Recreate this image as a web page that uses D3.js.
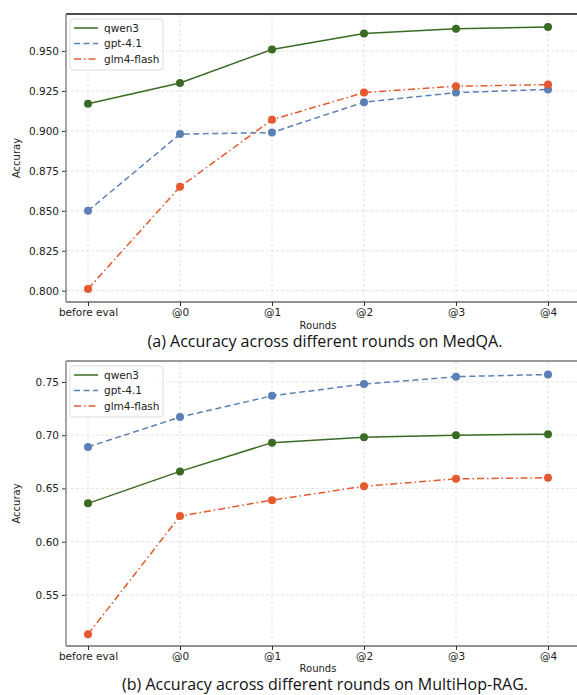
<!DOCTYPE html>
<html>
<head>
<meta charset="utf-8">
<script src="https://cdn.jsdelivr.net/npm/d3@7"></script>
<style>
  body { margin: 0; background: #fff; }
  svg { display: block; }
</style>
</head>
<body>
<svg id="chart" width="577" height="695"></svg>
<script>
var rounds = ['before eval', '@0', '@1', '@2', '@3', '@4'];
var seriesNames = ['qwen3', 'gpt-4.1', 'glm4-flash'];

var medQwen = [0.917, 0.930, 0.951, 0.961, 0.964, 0.965];
var medGpt = [0.850, 0.898, 0.899, 0.918, 0.924, 0.926];
var medGlm = [0.801, 0.865, 0.907, 0.924, 0.928, 0.929];
var medTicks = [0.800, 0.825, 0.850, 0.875, 0.900, 0.925, 0.950];

var hopQwen = [0.636, 0.666, 0.693, 0.698, 0.700, 0.701];
var hopGpt = [0.689, 0.717, 0.737, 0.748, 0.755, 0.757];
var hopGlm = [0.513, 0.624, 0.639, 0.652, 0.659, 0.660];
var hopTicks = [0.55, 0.60, 0.65, 0.70, 0.75];

var colors = ['#3a6b22', '#5c80b6', '#e5592e'];
var dashes = [null, '6,3.5', '7,3,1.5,3'];

var svg = d3.select('#chart');

function drawPanel(opts) {
  var g = svg.append('g');
  var x = d3.scalePoint().domain(rounds).range([88, 548]);
  var y = d3.scaleLinear().domain(opts.domain).range([opts.bottom, opts.top]);
  var left = 66, right = 577;

  // grid
  g.append('g').selectAll('line').data(rounds).enter().append('line')
    .attr('x1', function(d) { return x(d); }).attr('x2', function(d) { return x(d); })
    .attr('y1', opts.top).attr('y2', opts.bottom)
    .attr('stroke', '#dcdcdc').attr('stroke-width', 0.8).attr('stroke-dasharray', '3,2');
  g.append('g').selectAll('line').data(opts.ticks).enter().append('line')
    .attr('x1', left).attr('x2', right)
    .attr('y1', function(d) { return y(d); }).attr('y2', function(d) { return y(d); })
    .attr('stroke', '#dcdcdc').attr('stroke-width', 0.8).attr('stroke-dasharray', '3,2');

  // axes
  var yAxis = d3.axisLeft(y).tickValues(opts.ticks).tickFormat(d3.format(opts.fmt)).tickSize(4).tickPadding(3);
  var ya = g.append('g').attr('transform', 'translate(' + left + ',0)').call(yAxis);
  var xAxis = d3.axisBottom(x).tickSize(4).tickPadding(3);
  var xa = g.append('g').attr('transform', 'translate(0,' + opts.bottom + ')').call(xAxis);
  [ya, xa].forEach(function(a) {
    a.selectAll('text').attr('font-family', 'DejaVu Sans').attr('font-size', 10.5).attr('fill', '#222');
    a.selectAll('.tick line').attr('stroke', '#333');
    a.select('.domain').remove();
  });

  // spines
  g.append('line').attr('x1', left).attr('x2', right).attr('y1', opts.top).attr('y2', opts.top)
    .attr('stroke', opts.topColor).attr('stroke-width', 1.5);
  g.append('line').attr('x1', left).attr('x2', right).attr('y1', opts.bottom).attr('y2', opts.bottom)
    .attr('stroke', '#222').attr('stroke-width', 1.2);
  g.append('line').attr('x1', left).attr('x2', left).attr('y1', opts.top).attr('y2', opts.bottom)
    .attr('stroke', '#888').attr('stroke-width', 1.5);

  // lines
  var line = d3.line().x(function(d, i) { return x(rounds[i]); }).y(function(d) { return y(d); });
  opts.series.forEach(function(vals, k) {
    g.append('path').datum(vals).attr('d', line)
      .attr('fill', 'none').attr('stroke', colors[k]).attr('stroke-width', 1.5)
      .attr('stroke-dasharray', dashes[k]);
    g.append('g').selectAll('circle').data(vals).enter().append('circle')
      .attr('cx', function(d, i) { return x(rounds[i]); })
      .attr('cy', function(d) { return y(d); })
      .attr('r', 4).attr('fill', colors[k]);
  });

  // legend
  var lg = g.append('g').attr('transform', 'translate(70,' + (opts.top + 5) + ')');
  lg.append('rect').attr('width', 93).attr('height', 51).attr('rx', 3)
    .attr('fill', '#fff').attr('fill-opacity', 0.8).attr('stroke', '#ddd');
  seriesNames.forEach(function(name, k) {
    var yy = 9 + k * 15.5;
    lg.append('line').attr('x1', 4).attr('x2', 28).attr('y1', yy).attr('y2', yy)
      .attr('stroke', colors[k]).attr('stroke-width', 1.5).attr('stroke-dasharray', dashes[k]);
    lg.append('text').attr('x', 34).attr('y', yy + 3.5).text(name)
      .attr('font-family', 'DejaVu Sans').attr('font-size', 10.5).attr('fill', '#222');
  });

  // labels
  g.append('text').attr('transform', 'translate(20,' + ((opts.top + opts.bottom) / 2) + ') rotate(-90)')
    .attr('text-anchor', 'middle').attr('font-family', 'DejaVu Sans').attr('font-size', 10)
    .attr('fill', '#222').text('Accuray');
  g.append('text').attr('x', 318).attr('y', opts.bottom + opts.roundsDy)
    .attr('text-anchor', 'middle').attr('font-family', 'DejaVu Sans').attr('font-size', 10)
    .attr('fill', '#222').text('Rounds');
  g.append('text').attr('x', 325).attr('y', opts.bottom + opts.captionDy)
    .attr('text-anchor', 'middle').attr('font-family', 'Open Sans').attr('font-size', 16)
    .attr('fill', '#111').text(opts.caption);
}

drawPanel({
  top: 14, bottom: 302, domain: [0.7929, 0.9732], ticks: medTicks, fmt: '.3f',
  series: [medQwen, medGpt, medGlm], topColor: '#111', roundsDy: 27, captionDy: 45,
  caption: '(a) Accuracy across different rounds on MedQA.'
});
drawPanel({
  top: 361, bottom: 646, domain: [0.502, 0.7697], ticks: hopTicks, fmt: '.2f',
  series: [hopQwen, hopGpt, hopGlm], topColor: '#777', roundsDy: 26, captionDy: 43.5,
  caption: '(b) Accuracy across different rounds on MultiHop-RAG.'
});
</script>
</body>
</html>
